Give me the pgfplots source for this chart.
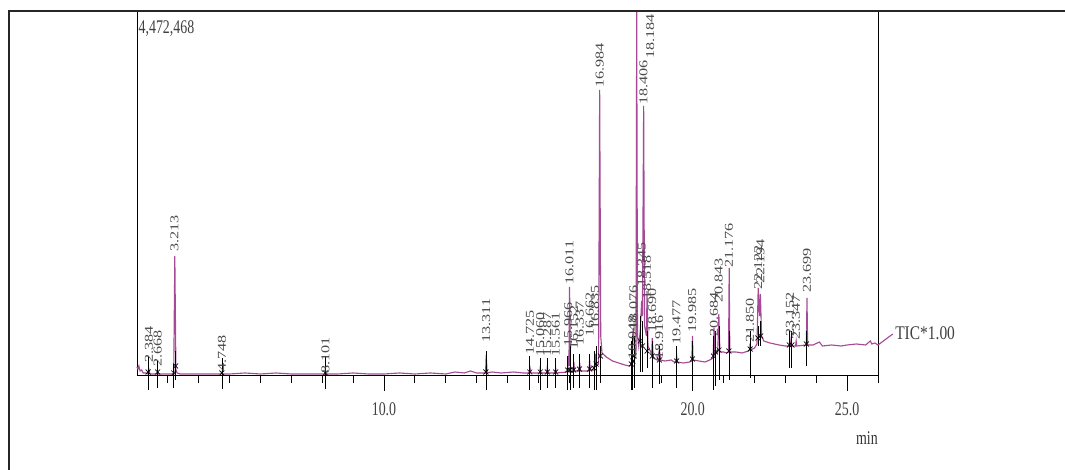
\documentclass[border=0pt]{standalone}
\usepackage{fontspec}
\setmainfont{Liberation Serif}
\usepackage{graphicx}
\usepackage{pgfplots}
\usepackage{pgfplotstable}
\pgfplotsset{compat=1.18}
\definecolor{tic}{RGB}{165,75,150}
\definecolor{lab}{RGB}{75,75,75}
\newcommand{\cond}[1]{\scalebox{0.72}[1]{#1}}
\begin{document}
\begin{tikzpicture}
\useasboundingbox (0,0) rectangle (798.75pt,352.5pt);
\begin{axis}[
  at={(102.75pt,70.5pt)}, anchor=south west,
  scale only axis, width=555.75pt, height=273.75pt,
  xmin=2, xmax=26, ymin=0, ymax=365,
  clip=false,
  axis line style={line width=0.75pt},
  ytick=\empty,
  xtick={10,20,25},
  minor xtick={3,4,5,6,7,8,9,11,12,13,14,15,16,17,18,19,21,22,23,24,26},
  xtick pos=bottom, tick align=outside,
  major tick length=11.25pt, minor tick length=5.25pt,
  tick style={black, line width=0.75pt},
  xticklabels={\cond{10.0},\cond{20.0},\cond{25.0}},
  xticklabel style={font=\fontsize{14.5pt}{15pt}\selectfont, text=black!75, yshift=-5pt},
  unbounded coords=jump,
]
% TIC trace
\addplot[tic, line width=0.85pt] coordinates {
(2.00,9) (2.03,7) (2.06,10) (2.10,5) (2.15,6) (2.20,3) (2.30,3) (2.35,2)
(2.36,2) (2.39,6) (2.42,2) (2.60,2) (2.65,2) (2.67,4) (2.70,2)
(3.15,2) (3.19,3) (3.225,120) (3.26,6) (3.30,3) (3.40,2)
(3.60,2) (4.00,2) (4.50,2) (4.72,2) (4.75,4) (4.78,2)
(5.00,2) (5.50,3) (6.00,2) (6.50,3) (7.00,2) (7.50,2) (8.00,2) (8.08,2) (8.10,4) (8.12,2)
(8.50,2) (9.00,3) (9.50,2) (10.00,2) (10.50,3) (11.00,2) (11.50,3) (12.00,2) (12.30,4) (12.60,3) (12.80,5) (13.00,3) (13.20,3)
(13.29,3) (13.31,21) (13.34,3)
(13.50,4) (13.80,3) (14.20,4) (14.50,3)
(14.70,3) (14.73,8) (14.76,3)
(15.04,3) (15.06,8) (15.08,3)
(15.27,3) (15.29,9) (15.31,3)
(15.54,3) (15.56,8) (15.58,3)
(15.94,4) (15.97,15) (15.99,10) (16.01,89) (16.04,5)
(16.13,4) (16.15,14) (16.17,5)
(16.32,5) (16.34,13) (16.36,5)
(16.64,5) (16.66,16) (16.68,6)
(16.81,6) (16.84,22) (16.87,10)
(16.95,12) (16.985,286) (17.02,40) (17.06,23) (17.20,19) (17.40,15) (17.60,13) (17.80,11) (17.95,10)
(18.02,12) (18.05,40) (18.08,48) (18.12,20)
(18.16,25) (18.185,365) (18.21,40)
(18.25,30) (18.30,45) (18.345,75) (18.37,60)
(18.41,270) (18.44,50)
(18.50,40) (18.52,85) (18.55,30)
(18.67,22) (18.69,38) (18.72,18)
(18.85,16) (18.92,26) (18.96,16)
(19.10,15) (19.30,16) (19.40,14)
(19.46,14) (19.48,20) (19.50,14)
(19.70,13) (19.90,14)
(19.97,15) (19.99,40) (20.01,16)
(20.20,15) (20.40,14) (20.55,16)
(20.66,18) (20.69,48) (20.72,22)
(20.81,24) (20.845,62) (20.88,24)
(21.00,24) (21.10,23)
(21.16,24) (21.18,108) (21.20,24)
(21.40,24) (21.60,23) (21.80,25)
(21.84,26) (21.86,33) (21.88,26)
(22.00,28)
(22.08,32) (22.12,88) (22.16,60)
(22.19,82) (22.23,40) (22.30,35) (22.50,33) (22.80,31) (23.00,30)
(23.13,30) (23.15,36) (23.17,30)
(23.33,30) (23.35,35) (23.37,30)
(23.68,31) (23.70,78) (23.72,31)
(23.90,31) (24.10,34) (24.20,30) (24.50,31) (24.80,30) (25.00,31) (25.30,32) (25.60,31) (25.75,35) (25.80,32) (25.90,33) (26.00,31)
(26.48,42)
};
% integration markers
\addplot[black, line width=0.55pt] coordinates {
(2.36,-14) (2.36,20) (nan,nan)
(2.67,-12) (2.67,15) (nan,nan)
(3.19,-12) (3.19,12) (nan,nan)
(3.25,-4) (3.25,25) (nan,nan)
(4.75,-13) (4.75,18) (nan,nan)
(8.10,-13) (8.10,20) (nan,nan)
(13.30,-14) (13.30,25) (nan,nan)
(14.72,-14) (14.72,20) (nan,nan)
(15.06,-14) (15.06,18) (nan,nan)
(15.29,-12) (15.29,18) (nan,nan)
(15.56,-12) (15.56,18) (nan,nan)
(15.95,-14) (15.95,20) (nan,nan)
(16.03,-14) (16.03,30) (nan,nan)
(16.14,-12) (16.14,22) (nan,nan)
(16.33,-12) (16.33,22) (nan,nan)
(16.66,-12) (16.66,22) (nan,nan)
(16.80,-14) (16.80,25) (nan,nan)
(16.87,-14) (16.87,30) (nan,nan)
(17.01,-4) (17.01,30) (nan,nan)
(18.01,-14) (18.01,35) (nan,nan)
(18.06,-14) (18.06,40) (nan,nan)
(18.10,-12) (18.10,40) (nan,nan)
(18.30,4) (18.30,60) (nan,nan)
(18.37,4) (18.37,55) (nan,nan)
(18.52,8) (18.52,45) (nan,nan)
(18.69,-12) (18.69,35) (nan,nan)
(18.92,-8) (18.92,30) (nan,nan)
(19.48,-12) (19.48,30) (nan,nan)
(19.99,0) (19.99,35) (nan,nan)
(20.67,-14) (20.67,40) (nan,nan)
(20.74,-10) (20.74,45) (nan,nan)
(20.85,-4) (20.85,50) (nan,nan)
(21.17,-4) (21.17,45) (nan,nan)
(21.86,-2) (21.86,45) (nan,nan)
(22.11,30) (22.11,50) (nan,nan)
(22.20,30) (22.20,55) (nan,nan)
(23.13,8) (23.13,45) (nan,nan)
(23.21,8) (23.21,45) (nan,nan)
(23.68,10) (23.68,45)
};
\addplot[black, only marks, mark=x, mark size=2.6pt, line width=0.5pt] coordinates {
(2.36,4) (2.67,4) (3.19,3) (3.25,10) (4.75,3) (8.10,3) (13.30,4) (14.72,4) (15.06,4)
(15.29,4) (15.56,4) (15.95,6) (16.03,6) (16.14,6) (16.33,7) (16.66,7) (16.80,8) (16.87,12)
(17.01,20) (18.01,12) (18.06,15) (18.10,20) (18.30,35) (18.37,30) (18.52,25) (18.69,20)
(18.92,16) (19.48,15) (19.99,17) (20.67,20) (20.74,24) (20.85,26) (21.17,25) (21.86,27)
(22.11,38) (22.20,40) (23.13,31) (23.21,31) (23.68,32)
};
% peak labels
\addplot[draw=none, point meta=explicit symbolic,
  nodes near coords={\scalebox{1.35}[1]{\pgfplotspointmeta}},
  every node near coord/.append style={rotate=90, anchor=west, inner sep=0pt,
    font=\fontsize{9pt}{9pt}\selectfont, text=lab}]
table[meta=label] {
x y label
2.384 13 2.384
2.668 9 2.668
3.213 124 3.213
4.748 4 4.748
8.101 2 8.101
13.311 33 13.311
14.725 21 14.725
15.060 19 15.060
15.287 19 15.287
15.561 19 15.561
15.966 29 15.966
16.011 91 16.011
16.152 26 16.152
16.337 30 16.337
16.662 39 16.662
16.835 46 16.835
16.984 288 16.984
18.048 16 18.048
18.076 46 18.076
18.345 89 18.345
18.406 271 18.406
18.518 76 18.518
18.690 43 18.690
18.916 16 18.916
19.477 31 19.477
19.985 43 19.985
20.684 39 20.684
20.843 73 20.843
21.176 108 21.176
21.850 33 21.850
22.122 86 22.122
22.194 92 22.194
23.152 39 23.152
23.347 36 23.347
23.699 83 23.699
};
\addplot[draw=none, point meta=explicit symbolic,
  nodes near coords={\scalebox{1.35}[1]{\pgfplotspointmeta}},
  every node near coord/.append style={rotate=90, anchor=east, inner sep=0pt,
    font=\fontsize{9pt}{9pt}\selectfont, text=lab}]
table[meta=label] {
x y label
18.62 362 18.184
};
\node[anchor=west, inner sep=0pt, font=\fontsize{14.5pt}{15pt}\selectfont, text=black!75]
  at (axis cs:26.55,43) {\scalebox{0.8}[1]{TIC*1.00}};
\node[anchor=north west, inner sep=0pt, font=\fontsize{14.5pt}{15pt}\selectfont, text=black!75]
  at ([xshift=1pt,yshift=-6.75pt]rel axis cs:0,1) {\cond{4,472,468}};
\node[anchor=base east, inner sep=0pt, font=\fontsize{14.5pt}{15pt}\selectfont, text=black!80]
  at ([yshift=-51.75pt]rel axis cs:1,0) {\cond{min}};
\end{axis}
\draw[line width=1.8pt, black!85] (6.75pt,0) -- (6.75pt,344.25pt) -- (798.75pt,344.25pt);
\end{tikzpicture}
\end{document}
